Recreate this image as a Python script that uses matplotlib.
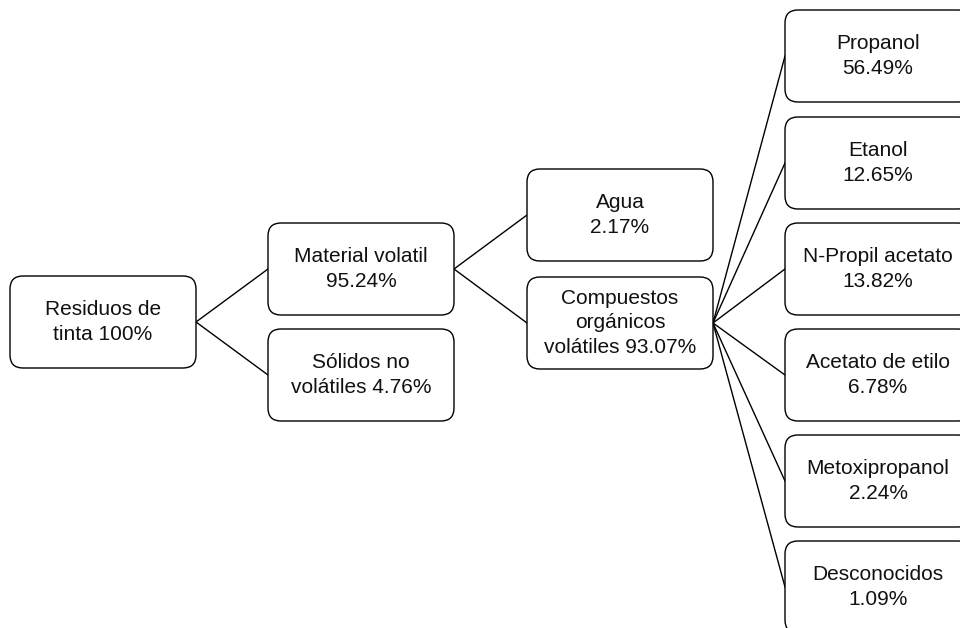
import matplotlib.pyplot as plt
from matplotlib.patches import FancyBboxPatch

plt.rcParams['font.family'] = ['Liberation Sans', 'DejaVu Sans']

# node names and shares (%)
names = ["Residuos de\ntinta", "Material volatil", "Sólidos no\nvolátiles", "Agua",
         "Compuestos\norgánicos\nvolátiles", "Propanol", "Etanol", "N-Propil acetato",
         "Acetato de etilo", "Metoxipropanol", "Desconocidos"]
shares = [100, 95.24, 4.76, 2.17, 93.07, 56.49, 12.65, 13.82, 6.78, 2.24, 1.09]
# whether the value goes on its own line
own_line = [False, True, False, True, False, True, True, True, True, True, True]
parents = [None, 0, 0, 1, 1, 4, 4, 4, 4, 4, 4]

# layout in pixels: column x-left and box top y
col_x = [10, 268, 268, 527, 527, 785, 785, 785, 785, 785, 785]
box_y = [276, 223, 329, 169, 277, 10, 117, 223, 329, 435, 541]
BW, BH = 186, 92

fig = plt.figure(figsize=(9.6, 6.28), dpi=100)
ax = fig.add_axes([0, 0, 1, 1])
ax.set_xlim(0, 960)
ax.set_ylim(628, 0)
ax.axis("off")


def fmt(v):
    return f"{v:.0f}%" if v == 100 else f"{v:.2f}%"


for i, (name, v) in enumerate(zip(names, shares)):
    x, y = col_x[i], box_y[i]
    box = FancyBboxPatch((x, y), BW, BH, boxstyle="round,pad=0,rounding_size=13",
                         fc="white", ec="black", lw=1.0, zorder=2)
    ax.add_patch(box)
    label = name + ("\n" if own_line[i] else " ") + fmt(v)
    ax.text(x + BW / 2, y + BH / 2, label, ha="center", va="center",
            fontsize=15, linespacing=1.35, color="#111111", zorder=3)
    p = parents[i]
    if p is not None:
        ax.plot([col_x[p] + BW, x], [box_y[p] + BH / 2, y + BH / 2],
                color="black", lw=1.0, zorder=1)

fig.savefig("out.png", dpi=100)
